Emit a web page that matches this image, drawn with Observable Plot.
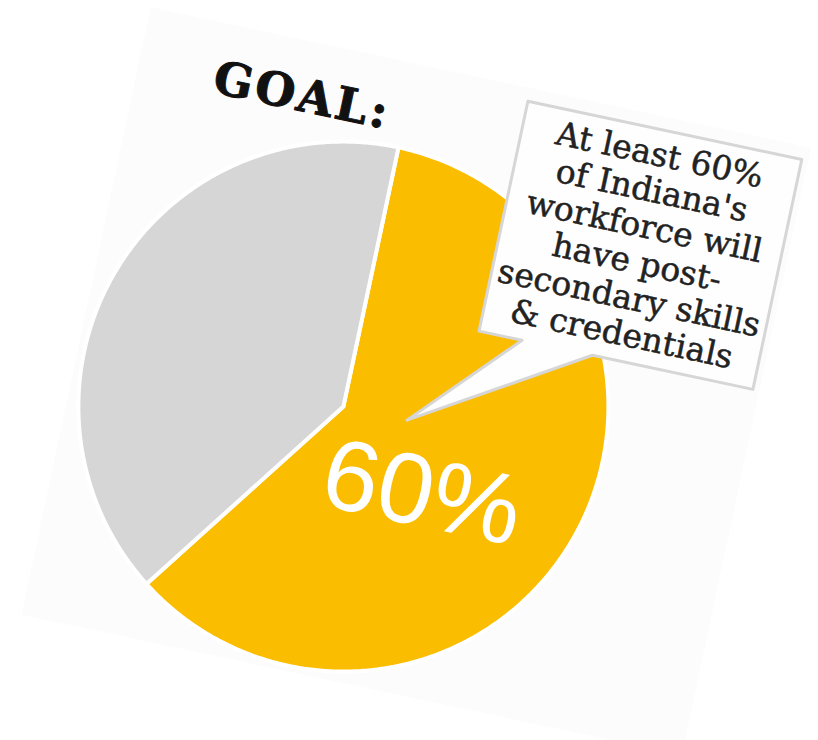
<!DOCTYPE html>
<html><head><meta charset="utf-8">
<script src="https://cdn.jsdelivr.net/npm/d3@7"></script>
<script src="https://cdn.jsdelivr.net/npm/@observablehq/plot@0.6"></script>
<style>
html,body{margin:0;padding:0;background:#fff;overflow:hidden;width:818px;height:740px;}
#chart{position:absolute;left:72px;top:56px;width:675px;height:621px;transform-origin:271px 350px;transform:rotate(12deg);}
</style></head><body><div id="chart"></div>
<script>
// ---- data ----
const categories = ["Post-secondary skills & credentials", "Other"];
const values = [60, 40];
const colors = ["#fbbd00", "#d6d6d6"];
const titleText = "GOAL:";
const calloutLines = ["At least 60%", "of Indiana's", "workforce will", "have post-", "secondary skills", "& credentials"];
const centerLabel = "60%";

// ---- layout ----
const W = 675, H = 621, cx = 271, cy = 350, R = 265;

const arcs = d3.pie().sort(null).value(d => d.value)(categories.map((c, i) => ({category: c, value: values[i]})));
const slicePts = arcs.flatMap(a => {
  const n = Math.max(2, Math.ceil((a.endAngle - a.startAngle) / (Math.PI / 360)));
  const pts = [{category: a.data.category, x: cx, y: cy}];
  for (let k = 0; k <= n; k++) {
    const t = a.startAngle + (a.endAngle - a.startAngle) * k / n;
    pts.push({category: a.data.category, x: cx + R * Math.sin(t), y: cy - R * Math.cos(t)});
  }
  return pts;
});

// callout box with pointer (annotation layout)
const box = {x1: 388, x2: 668, y1: 13, y2: 248, baseL: 432, baseR: 504};
const tipAngle = arcs[0].startAngle + (arcs[0].endAngle - arcs[0].startAngle) * 0.4167;
const tip = {x: cx + 65 * Math.sin(tipAngle), y: cy - 65 * Math.cos(tipAngle)};
const calloutPoly = [
  {x: box.x1, y: box.y1}, {x: box.x2, y: box.y1}, {x: box.x2, y: box.y2},
  {x: box.baseR, y: box.y2}, tip, {x: box.baseL, y: box.y2}, {x: box.x1, y: box.y2}
];

const chart = Plot.plot({
  width: W, height: H,
  margin: 0,
  style: {background: "#fcfcfc", overflow: "visible"},
  x: {domain: [0, W], range: [0, W], axis: null},
  y: {domain: [0, H], range: [0, H], axis: null},
  color: {domain: categories, range: colors},
  marks: [
    Plot.line(slicePts, {x: "x", y: "y", z: "category", fill: "category", stroke: "white", strokeWidth: 4, strokeLinejoin: "round", curve: "linear-closed"}),
    Plot.line(calloutPoly, {x: "x", y: "y", fill: "#fefefe", stroke: "#d6d6d6", strokeWidth: 3, curve: "linear-closed"}),
    Plot.text([calloutLines.join("\n")], {x: 528, y: 129, text: d => d, fontFamily: "DejaVu Serif", fontSize: 33, lineHeight: 1.11, fill: "#222", stroke: "#222", strokeWidth: 0.5, textAnchor: "middle", lineAnchor: "middle"}),
    Plot.text([titleText], {x: 166, y: 55, text: d => d, fontFamily: "DejaVu Serif", fontWeight: "bold", fontSize: 46, fill: "#111", stroke: "#111", strokeWidth: 1, textAnchor: "middle", lineAnchor: "middle", className: "goal"}),
    Plot.text([centerLabel], {x: 366, y: 419, text: d => d, fontFamily: "Liberation Sans", fontSize: 100, fill: "white", textAnchor: "middle", lineAnchor: "middle"})
  ]
});
d3.select(chart).selectAll(".goal text").style("letter-spacing", "3px");
document.getElementById("chart").appendChild(chart);
</script></body></html>
